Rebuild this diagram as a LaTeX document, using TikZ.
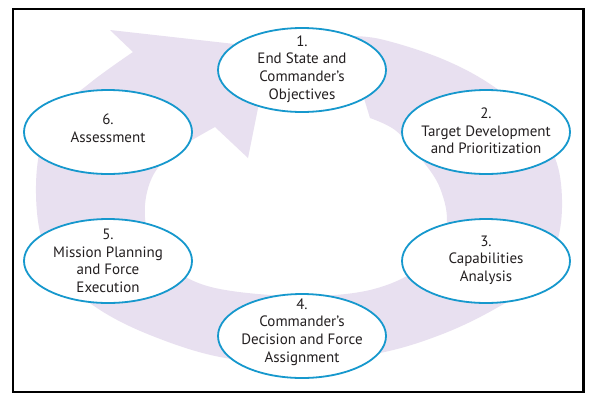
\documentclass[tikz,border=0pt]{standalone}
\usepackage{fontspec}
\setmainfont{PT Sans}
\usetikzlibrary{shapes.geometric}
\definecolor{ringc}{RGB}{232,224,240}
\definecolor{ellc}{RGB}{22,152,205}
\definecolor{txtc}{RGB}{35,31,32}
\begin{document}
\begin{tikzpicture}[x=1pt,y=-1pt,
  stepell/.style={ellipse, draw=ellc, line width=1.8pt, fill=white, minimum width=168pt, minimum height=84pt, inner sep=0pt},
  lbl/.style={text=txtc, align=center, font=\fontsize{15}{17.6}\selectfont, inner sep=0pt}]
\useasboundingbox (0,0) rectangle (601,402);
\fill[white] (0,0) rectangle (601,402);
% background cycle arrow
\fill[ringc] plot[smooth, tension=0.6] coordinates {(345,36) (380,39) (440,58) (490,84) (530,118) (555,158) (562,200) (557,242) (538,280) (493,310) (440,335) (380,353) (300,364) (220,357) (150,335) (97,308) (62,276) (40,232) (37,168) (52,118) (90,83) (133,52)}
  -- (110,30) -- (270,48) -- (248,158) -- (215,127)
  -- plot[smooth, tension=0.6] coordinates {(215,127) (180,148) (155,172) (145,205) (150,240) (172,268) (215,288) (296,296) (370,290) (422,266) (446,228) (440,188) (418,155) (395,130) (370,118)} -- cycle;
\draw[line width=2.2pt] (12.6,9) rectangle (583.4,392.3);
\node[stepell] (e1) at (302,70) {};
\node[stepell] (e2) at (486,132) {};
\node[stepell] (e3) at (486,261) {};
\node[stepell] (e4) at (302,336) {};
\node[stepell] (e5) at (108,261) {};
\node[stepell] (e6) at (108,132) {};
\node[lbl] (t1) at (302,69) {1.\\End State and\\Commander’s\\Objectives};
\node[lbl] (t2) at (486,131) {2.\\Target Development\\and Prioritization};
\node[lbl] (t3) at (486,260) {3.\\Capabilities\\Analysis};
\node[lbl] (t4) at (302,332) {4.\\Commander’s\\Decision and Force\\Assignment};
\node[lbl] (t5) at (108,261) {5.\\Mission Planning\\and Force\\Execution};
\node[lbl] (t6) at (108,128) {6.\\Assessment};
\end{tikzpicture}
\end{document}
